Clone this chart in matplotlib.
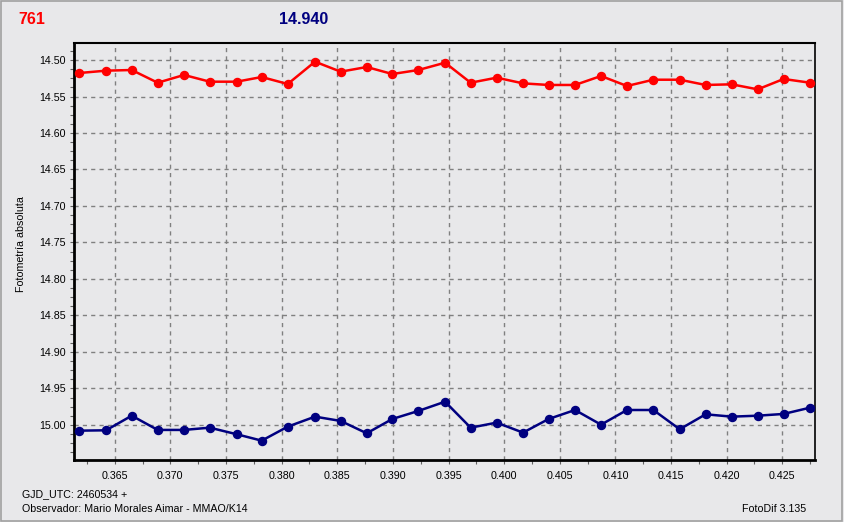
import matplotlib
matplotlib.use("Agg")
import matplotlib.pyplot as plt
from matplotlib.ticker import MultipleLocator, FormatStrFormatter
from matplotlib.patches import Rectangle

# ---- data ----
x_vals = [0.36182, 0.36422, 0.36653, 0.36886, 0.37123, 0.37354, 0.37596, 0.37821,
          0.38055, 0.38300, 0.38531, 0.38765, 0.38995, 0.39229, 0.39469, 0.39699,
          0.39933, 0.40170, 0.40400, 0.40637, 0.40871, 0.41104, 0.41341, 0.41578,
          0.41811, 0.42045, 0.42279, 0.42512, 0.42749]
red_vals = [14.5178, 14.5146, 14.5137, 14.5311, 14.5205, 14.5297, 14.5297, 14.5233,
            14.5329, 14.5023, 14.5160, 14.5096, 14.5192, 14.5137, 14.5037, 14.5311,
            14.5242, 14.5320, 14.5342, 14.5342, 14.5219, 14.5356, 14.5270, 14.5270,
            14.5342, 14.5333, 14.5402, 14.5260, 14.5311]
blue_vals = [15.0078, 15.0073, 14.9873, 15.0068, 15.0068, 15.0037, 15.0127, 15.0215,
             15.0023, 14.9886, 14.9945, 15.0114, 14.9918, 14.9808, 14.9681, 15.0037,
             14.9968, 15.0105, 14.9918, 14.9795, 14.9996, 14.9795, 14.9795, 15.0059,
             14.9854, 14.9886, 14.9873, 14.9849, 14.9763]
title_left = "761"
title_mid = "14.940"
y_label = "Fotometría absoluta"
footer_1 = "GJD_UTC: 2460534 +"
footer_2 = "Observador: Mario Morales Aimar - MMAO/K14"
footer_right = "FotoDif 3.135"

BG = "#E8E8EA"
RED = "#FF0000"
NAVY = "#000080"
FONT = "Liberation Sans"
FS = 7.7

plt.rcParams["font.family"] = [FONT, "DejaVu Sans"]

fig = plt.figure(figsize=(8.44, 5.22), dpi=100, facecolor=BG)
fig.patches.append(Rectangle((0.0012, 0.002), 0.9965, 0.996, transform=fig.transFigure,
                             fill=False, edgecolor="#A0A0A0", linewidth=1.2))

ax = fig.add_axes([74/844, 62/522, (815-74)/844, (460-43)/522])
ax.set_facecolor(BG)

ax.plot(x_vals, red_vals, color=RED, lw=1.8, marker="o", ms=5.8, mec=RED, mfc=RED, zorder=3)
ax.plot(x_vals, blue_vals, color=NAVY, lw=1.8, marker="o", ms=5.8, mec=NAVY, mfc=NAVY, zorder=3)

ax.set_xlim(0.36134, 0.42794)
ax.set_ylim(15.048, 14.4767)

ax.xaxis.set_major_locator(MultipleLocator(0.005))
ax.xaxis.set_minor_locator(MultipleLocator(0.0025))
ax.yaxis.set_major_locator(MultipleLocator(0.05))
ax.yaxis.set_minor_locator(MultipleLocator(0.0125))
ax.xaxis.set_major_formatter(FormatStrFormatter("%.3f"))
ax.yaxis.set_major_formatter(FormatStrFormatter("%.2f"))

ax.grid(True, which="major", color="#808080", linestyle=(0, (3, 3)), linewidth=1.0)
ax.tick_params(axis="both", which="major", labelsize=FS, length=3, width=0.8, pad=3)
ax.tick_params(axis="both", which="minor", length=3, width=0.8)
ax.tick_params(axis="x", which="major", pad=5)
ax.tick_params(axis="both", which="both", colors="#606060", labelcolor="#000000")

for side, lw in (("left", 2.0), ("bottom", 2.0), ("top", 1.5), ("right", 1.2)):
    ax.spines[side].set_linewidth(lw)
    ax.spines[side].set_color("#000000")

fig.text(21/844, 1 - 244/522, y_label, fontsize=FS, rotation=90, va="center", ha="center")

fig.text(18/844, 1 - 19/522, title_left, color=RED, fontsize=11.5, fontweight="bold",
         va="center", ha="left")
fig.text(279/844, 1 - 19/522, title_mid, color=NAVY, fontsize=11.5, fontweight="bold",
         va="center", ha="left")

fig.text(22/844, 1 - 494/522, footer_1, fontsize=FS, va="center", ha="left")
fig.text(22/844, 1 - 509/522, footer_2, fontsize=FS, va="center", ha="left")
fig.text(806/844, 1 - 509/522, footer_right, fontsize=FS, va="center", ha="right")

fig.savefig("out.png", dpi=100, facecolor=BG)
